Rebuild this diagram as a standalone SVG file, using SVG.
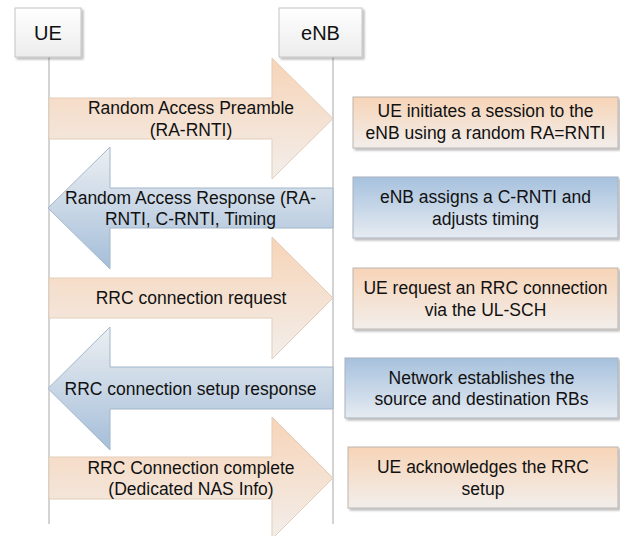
<svg xmlns="http://www.w3.org/2000/svg" width="620" height="536" viewBox="0 0 620 536">
  <defs>
    <linearGradient id="peach" x1="0" y1="0" x2="0" y2="1">
      <stop offset="0" stop-color="#f7d4b7"/>
      <stop offset="1" stop-color="#f2eeeb"/>
    </linearGradient>
    <linearGradient id="blueBox" x1="0" y1="0" x2="0" y2="1">
      <stop offset="0" stop-color="#a6c1de"/>
      <stop offset="1" stop-color="#e6ebf1"/>
    </linearGradient>
    <linearGradient id="blueArrow" x1="0" y1="0" x2="0" y2="1">
      <stop offset="0" stop-color="#eceff2"/>
      <stop offset="1" stop-color="#a5bed9"/>
    </linearGradient>
    <linearGradient id="white" x1="0" y1="0" x2="0" y2="1">
      <stop offset="0" stop-color="#ffffff"/>
      <stop offset="1" stop-color="#ececec"/>
    </linearGradient>
    <filter id="shadow" x="-10%" y="-10%" width="125%" height="130%">
      <feDropShadow dx="2" dy="2" stdDeviation="1.2" flood-color="#000" flood-opacity="0.28"/>
    </filter>
  </defs>
  <style>
    text { font-family: "Liberation Sans", Arial, sans-serif; fill: #111; text-anchor: middle; }
    .lbl { font-size: 17.5px; }
    .actor { font-size: 20px; }
    .life { stroke: #a8a8a8; stroke-width: 1; fill: none; }
    .abox { fill: url(#white); stroke: #c4c4c4; stroke-width: 1; filter: url(#shadow); }
    .pbox { fill: url(#peach); stroke: #bdb6b0; stroke-width: 1; filter: url(#shadow); }
    .bbox { fill: url(#blueBox); stroke: #a9b2bc; stroke-width: 1; filter: url(#shadow); }
    .parr { fill: url(#peach); stroke: #e3cdb9; stroke-width: 1; }
    .barr { fill: url(#blueArrow); stroke: #a2b6cb; stroke-width: 1; }
  </style>
  <rect width="620" height="536" fill="#ffffff"/>

  <g id="lifelines">
    <line class="life" x1="49" y1="57" x2="49" y2="524"/>
    <line class="life" x1="333" y1="57" x2="333" y2="524"/>
  </g>

  <g id="ue">
    <rect class="abox" x="15" y="8" width="66" height="49"/>
    <text class="actor" x="48" y="40">UE</text>
  </g>
  <g id="enb">
    <rect class="abox" x="279" y="8" width="83" height="49"/>
    <text class="actor" x="320.5" y="40">eNB</text>
  </g>

  <g id="connectors">
    <g id="msg1">
      <path class="parr" d="M49,98 H272 V58 L333,118.5 L272,179 V139 H49 Z"/>
      <text class="lbl" x="191" y="114">Random Access Preamble</text>
      <text class="lbl" x="191" y="135.5">(RA-RNTI)</text>
    </g>
    <g id="msg2">
      <path class="barr" d="M333,188 H110 V147 L48,208 L110,269 V228 H333 Z"/>
      <text class="lbl" x="190.5" y="203.5">Random Access Response (RA-</text>
      <text class="lbl" x="190.5" y="225">RNTI, C-RNTI, Timing</text>
    </g>
    <g id="msg3">
      <path class="parr" d="M49,278 H272 V237 L333,298 L272,359 V318 H49 Z"/>
      <text class="lbl" x="191" y="304">RRC connection request</text>
    </g>
    <g id="msg4">
      <path class="barr" d="M333,367 H110 V327 L48,388.5 L110,450 V409 H333 Z"/>
      <text class="lbl" x="190.5" y="394.5">RRC connection setup response</text>
    </g>
    <g id="msg5">
      <path class="parr" d="M49,457 H272 V417 L333,478 L272,539 V499 H49 Z"/>
      <text class="lbl" x="191" y="473.5">RRC Connection complete</text>
      <text class="lbl" x="191" y="495">(Dedicated NAS Info)</text>
    </g>
  </g>

  <g id="note1">
    <rect class="pbox" x="353" y="97" width="265" height="51"/>
    <text class="lbl" x="485.5" y="117">UE initiates a session to the</text>
    <text class="lbl" x="485.5" y="138.5">eNB using a random RA=RNTI</text>
  </g>
  <g id="note2">
    <rect class="bbox" x="353" y="177" width="265" height="61"/>
    <text class="lbl" x="485.5" y="203">eNB assigns a C-RNTI and</text>
    <text class="lbl" x="485.5" y="224.5">adjusts timing</text>
  </g>
  <g id="note3">
    <rect class="pbox" x="353" y="268" width="265" height="61"/>
    <text class="lbl" x="485.5" y="294">UE request an RRC connection</text>
    <text class="lbl" x="485.5" y="315.5">via the UL-SCH</text>
  </g>
  <g id="note4">
    <rect class="bbox" x="345" y="358" width="273" height="60"/>
    <text class="lbl" x="481.5" y="383.5">Network establishes the</text>
    <text class="lbl" x="481.5" y="405">source and destination RBs</text>
  </g>
  <g id="note5">
    <rect class="pbox" x="348" y="447" width="270" height="61"/>
    <text class="lbl" x="483" y="473">UE acknowledges the RRC</text>
    <text class="lbl" x="483" y="494.5">setup</text>
  </g>
</svg>
